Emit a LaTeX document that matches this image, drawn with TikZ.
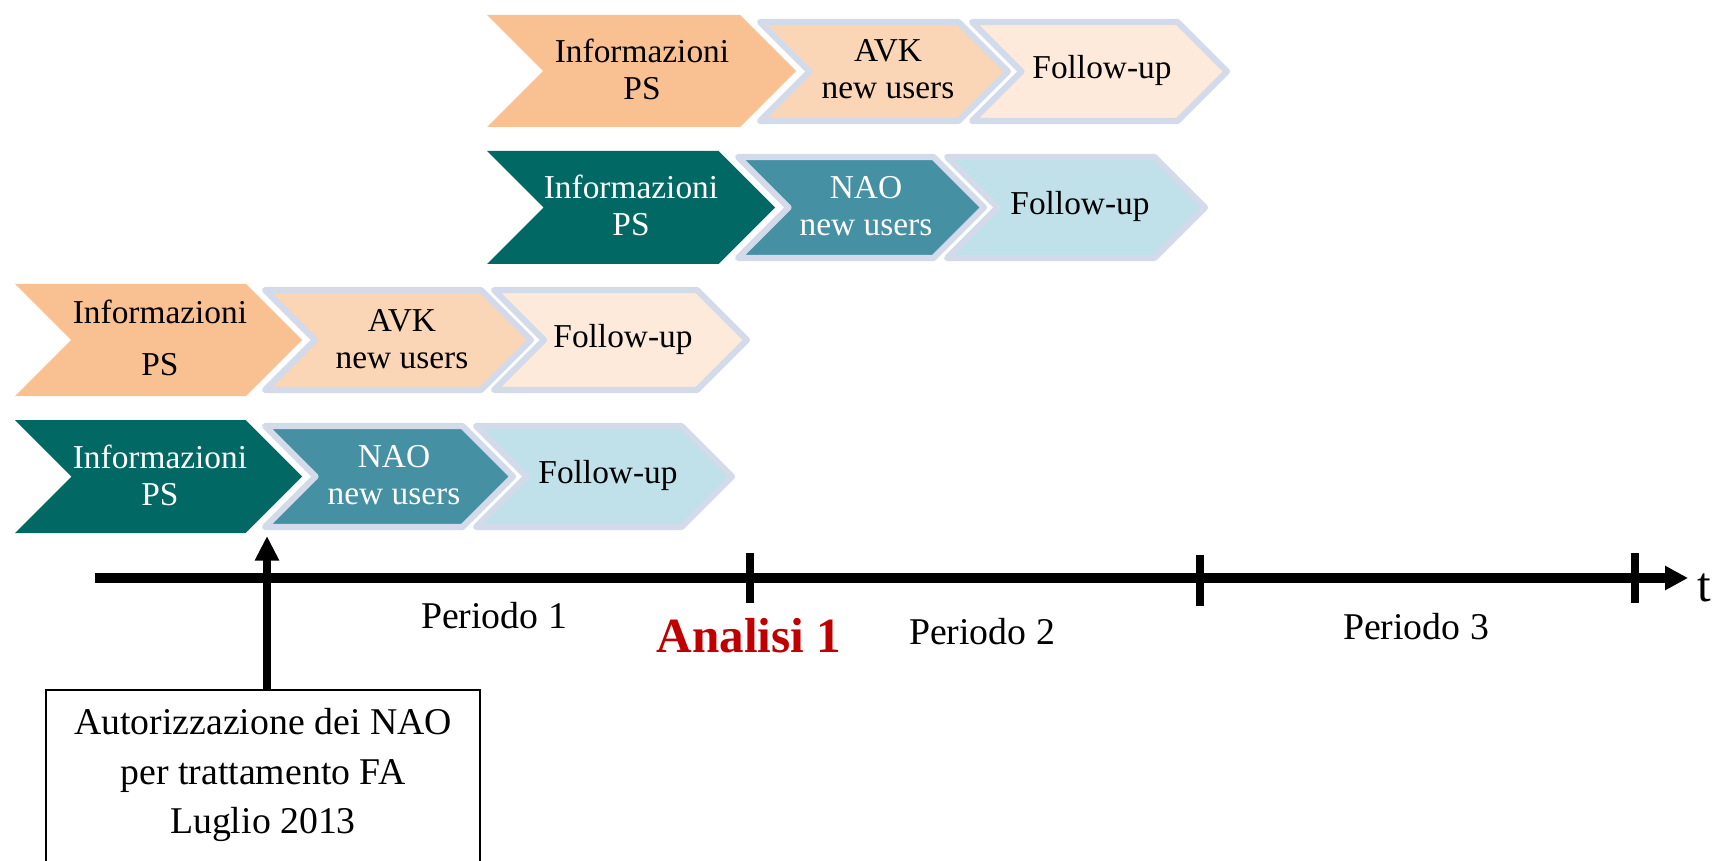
\documentclass[tikz,border=0pt]{standalone}
\usepackage{fontspec}
\setmainfont{Liberation Serif}
\usetikzlibrary{arrows.meta}
\definecolor{orDark}{HTML}{F9C192}
\definecolor{orMid}{HTML}{FBD6B6}
\definecolor{orLight}{HTML}{FDEADA}
\definecolor{tlDark}{HTML}{026864}
\definecolor{tlMid}{HTML}{4690A4}
\definecolor{tlLight}{HTML}{C0E1EA}
\definecolor{rim}{HTML}{D3DBEA}
\definecolor{anred}{HTML}{C00000}
\newcommand\chev[5]{%
  \path[#5] (#1,#3) -- ({#2-(#4-#3)/2},#3) -- (#2,{(#3+#4)/2}) -- ({#2-(#4-#3)/2},#4) -- (#1,#4) -- ({#1+(#4-#3)/2},{(#3+#4)/2}) -- cycle;}
\tikzset{
  head/.style={fill=#1},
  body/.style={fill=#1, draw=rim, line width=3.5pt, line join=round},
  lbl/.style={font=\fontsize{19}{21}\selectfont, align=center, inner sep=0pt},
  wlbl/.style={lbl, text=white},
  per/.style={font=\fontsize{21.5}{24}\selectfont, inner sep=0pt},
  axis/.style={line width=5.5pt},
  tick/.style={line width=5pt},
}
\begin{document}
\begin{tikzpicture}[x=0.02cm,y=-0.02cm]
\useasboundingbox (0,0) rectangle (1717,861);
% row 1
\chev{487}{796}{15}{127}{head=orDark}
\chev{760}{1008}{22}{121}{body=orMid}
\chev{972}{1227}{22}{121}{body=orLight}
\node[lbl] (r1a) at (642,69) {Informazioni\\PS};
\node[lbl] (r1b) at (888,69) {AVK\\new users};
\node[lbl] (r1c) at (1102,70) {Follow-up};
% row 2
\chev{487}{775}{151}{264}{head=tlDark}
\chev{738}{984}{157}{258}{body=tlMid}
\chev{947}{1205}{157}{258}{body=tlLight}
\node[wlbl] (r2a) at (631,205) {Informazioni\\PS};
\node[wlbl] (r2b) at (866,206) {NAO\\new users};
\node[lbl] (r2c) at (1080,206) {Follow-up};
% row 3
\chev{15}{302}{284}{396}{head=orDark}
\chev{265}{531}{290}{390}{body=orMid}
\chev{494}{747}{290}{390}{body=orLight}
\node[lbl, font=\fontsize{19}{30}\selectfont] (r3a) at (160,338) {Informazioni\\PS};
\node[lbl] (r3b) at (402,339) {AVK\\new users};
\node[lbl] (r3c) at (623,339) {Follow-up};
% row 4
\chev{15}{302}{420}{533}{head=tlDark}
\chev{265}{513}{426}{527}{body=tlMid}
\chev{476}{732}{426}{527}{body=tlLight}
\node[wlbl] (r4a) at (160,475) {Informazioni\\PS};
\node[wlbl] (r4b) at (394,475) {NAO\\new users};
\node[lbl] (r4c) at (608,475) {Follow-up};
% timeline
\coordinate (t0) at (95,578);
\coordinate (t1) at (1688,578);
\draw[axis, -{Triangle[length=13pt, width=13pt]}] (t0) -- (t1);
\coordinate (k1a) at (750,553); \coordinate (k1b) at (750,603);
\coordinate (k2a) at (1200,555); \coordinate (k2b) at (1200,606);
\coordinate (k3a) at (1635,553); \coordinate (k3b) at (1635,603);
\draw[tick] (k1a) -- (k1b);
\draw[tick] (k2a) -- (k2b);
\draw[tick] (k3a) -- (k3b);
\node[font=\fontsize{28}{30}\selectfont, inner sep=0pt] (tl) at (1704,588) {t};
\node[per] (p1) at (494,616) {Periodo 1};
\node[per, font=\bfseries\fontsize{28}{30}\selectfont, text=anred] (an) at (749,636) {Analisi 1};
\node[per] (p2) at (982,632) {Periodo 2};
\node[per] (p3) at (1416,627) {Periodo 3};
% authorisation box
\draw[line width=1.3pt] (46,875) -- (46,690) -- (480,690) -- (480,875);
\node[font=\fontsize{21.5}{28}\selectfont, align=center, inner sep=0pt] (auth) at (263,775) {Autorizzazione dei NAO\\per trattamento FA\\Luglio 2013};
\coordinate (boxtop) at (267,690);
\coordinate (arrtip) at (267,536);
\draw[line width=4pt, -{Triangle[length=14pt, width=13pt]}] (boxtop) -- (arrtip);
\end{tikzpicture}
\end{document}
